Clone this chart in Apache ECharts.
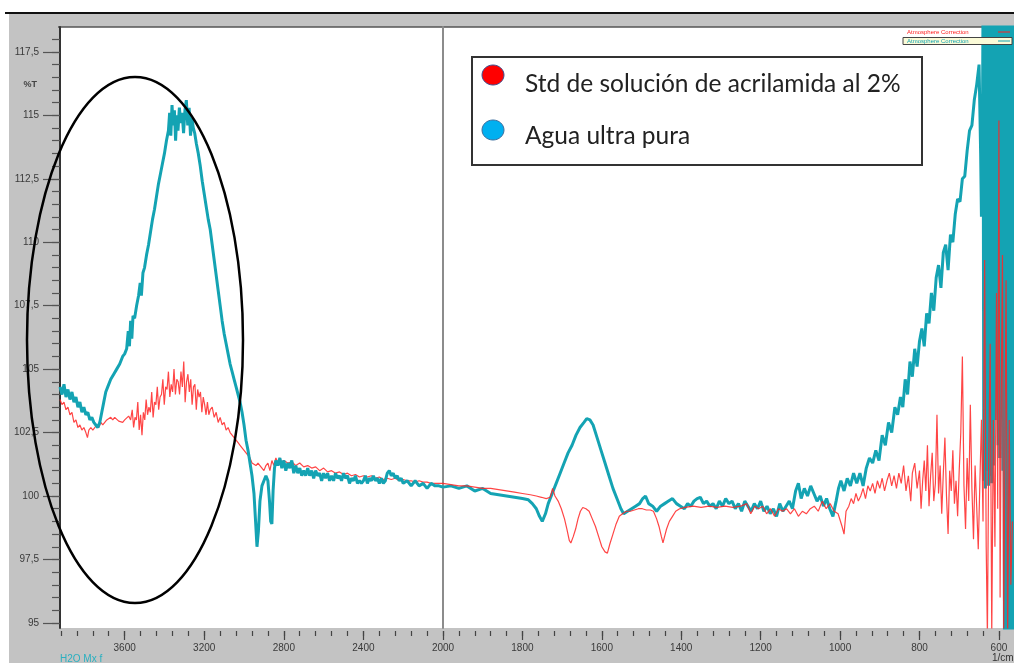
<!DOCTYPE html>
<html>
<head>
<meta charset="utf-8">
<script src="https://cdn.jsdelivr.net/npm/echarts@6/dist/echarts.min.js"></script>
<style>
html,body{margin:0;padding:0;background:#fff;}
#chart{width:1014px;height:663px;}
</style>
</head>
<body>
<div id="chart"></div>
<script>
// ---- tick labels ----
const yMajorTicks = [95, 97.5, 100, 102.5, 105, 107.5, 110, 112.5, 115, 117.5];
const xMajorLeft = [3600, 3200, 2800, 2400, 2000];
const xMajorRight = [1800, 1600, 1400, 1200, 1000, 800, 600];
const legendLabels = ['Std de solución de acrilamida al 2%', 'Agua ultra pura'];

// ---- Agua ultra pura (cyan) : wavenumber / %T ----
const aguaWn = [3925,3915,3905,3895,3885,3875,3865,3855,3845,3835,3825,3815,3805,3795,3785,3775,3765,3755,3745,3735,3725,3715,3705,3695,3685,3670,3655,3640,3625,3610,3600,3590,3582,3576,3570,3564,3558,3550,3540,3530,3522,3516,3508,3500,3490,3480,3470,3460,3450,3440,3430,3420,3410,3400,3390,3380,3374,3368,3362,3356,3350,3344,3338,3332,3325,3318,3311,3304,3297,3290,3283,3276,3269,3262,3255,3248,3240,3230,3220,3210,3200,3190,3180,3170,3160,3150,3140,3130,3120,3110,3100,3090,3080,3070,3060,3050,3040,3030,3020,3010,3000,2990,2980,2970,2960,2950,2942,2935,2928,2920,2910,2900,2890,2880,2872,2866,2860,2854,2847,2840,2830,2820,2810,2800,2790,2780,2770,2760,2750,2740,2730,2720,2710,2700,2690,2680,2670,2660,2650,2640,2630,2620,2610,2600,2590,2580,2570,2560,2550,2540,2530,2520,2510,2500,2490,2480,2470,2460,2450,2440,2430,2420,2410,2400,2390,2380,2370,2360,2350,2340,2330,2320,2310,2300,2290,2280,2270,2260,2250,2240,2230,2220,2210,2200,2180,2160,2140,2120,2100,2080,2060,2040,2020,2000,
1980,1960,1940,1920,1900,1880,1860,1840,1820,1800,1785,1775,1765,1757,1750,1742,1735,1725,1715,1705,1695,1685,1675,1665,1655,1645,1638,1630,1622,1612,1602,1592,1582,1572,1562,1552,1545,1535,1525,1515,1505,1497,1490,1482,1472,1462,1452,1442,1432,1422,1412,1402,1392,1384,1376,1368,1360,1352,1344,1336,1328,1320,1312,1304,1296,1288,1280,1272,1264,1256,1248,1240,1232,1224,1216,1208,1200,1192,1184,1176,1168,1160,1152,1144,1136,1128,1120,1112,1105,1098,1090,1082,1074,1066,1058,1050,1042,1034,1026,1018,1010,1004,998,990,982,974,966,958,950,942,934,926,918,910,902,894,886,878,870,862,855,848,842,836,830,824,818,812,806,800,794,788,782,776,770,764,758,752,746,740,734,728,722,716,710,704,698,692,686,680,674,668,662,656,650,646,644,642,640,638,636,634,632,630,628,626,624,622,620,618,616,614,612,610,608,606,604,602,600,598,596,594,592,590,588,586,584,582,580,578,576,574,572,570,568,566,564,562];
const aguaT = [104.3,104.0,104.4,103.9,104.2,103.8,104.1,103.7,103.9,103.5,103.7,103.3,103.5,103.2,103.3,103.0,103.1,102.9,102.8,102.7,102.9,103.3,103.7,104.1,104.3,104.6,104.8,105.0,105.2,105.5,105.6,105.8,106.5,105.9,106.9,106.2,107.1,107.0,107.5,107.9,108.4,107.9,108.8,109.0,109.5,109.9,110.4,110.9,111.3,111.8,112.3,112.7,113.1,113.5,114.0,114.4,115.1,114.2,115.4,114.6,115.2,114.0,115.0,114.4,115.3,114.7,115.1,114.3,115.2,115.6,114.6,115.3,114.2,114.9,114.5,114.3,113.9,113.5,113.0,112.4,111.9,111.4,110.9,110.5,109.9,109.3,108.7,108.1,107.5,106.9,106.4,106.0,105.6,105.2,104.9,104.6,104.3,104.0,103.7,103.3,102.8,102.2,101.8,101.3,100.8,100.1,99.0,98.0,98.6,99.8,100.4,100.6,100.8,100.6,99.8,99.0,98.9,100.2,101.1,101.4,101.2,101.5,101.1,101.4,101.0,101.3,101.1,101.4,100.9,101.2,100.9,101.1,100.8,101.0,100.8,101.1,100.8,101.0,100.7,101.0,100.8,100.9,100.6,100.9,100.7,100.9,100.6,100.8,100.6,100.9,100.7,100.8,100.6,100.9,100.7,100.8,100.5,100.7,100.6,100.8,100.5,100.6,100.5,100.6,100.8,100.5,100.7,100.6,100.8,100.6,100.7,100.5,100.7,100.5,100.6,100.9,101.0,100.8,100.9,100.7,100.8,100.6,100.7,100.5,100.6,100.4,100.6,100.4,100.5,100.3,100.5,100.4,100.4,100.35,
100.4,100.3,100.4,100.2,100.3,100.1,100.05,100.0,99.95,99.9,99.85,99.7,99.5,99.2,99.0,99.3,99.7,100.1,100.5,100.9,101.3,101.7,102.0,102.4,102.7,102.9,103.05,103.0,102.8,102.3,101.8,101.3,100.8,100.3,99.9,99.5,99.3,99.4,99.5,99.6,99.7,99.9,100.0,99.7,99.6,99.4,99.6,99.7,99.8,99.9,99.7,99.6,99.5,99.7,99.6,99.8,99.9,99.95,99.7,99.8,99.6,99.7,99.5,99.8,99.6,99.9,99.7,99.8,99.5,99.7,99.4,99.8,99.6,99.4,99.7,99.5,99.8,99.4,99.6,99.3,99.5,99.2,99.7,99.4,99.6,99.8,99.5,100.2,100.5,99.9,100.3,100.0,100.4,100.1,99.8,100.0,99.6,99.9,99.5,99.2,99.8,100.3,100.6,100.2,100.7,100.4,100.9,100.5,100.9,100.4,101.1,101.5,101.3,101.8,101.4,102.4,102.0,102.9,102.5,103.5,103.2,103.9,103.5,104.6,104.0,105.3,104.7,105.8,105.1,106.1,106.6,105.9,107.2,106.8,108.0,107.3,108.6,109.1,108.2,109.6,109.9,108.9,110.3,110.0,111.1,111.7,111.6,112.5,112.6,113.6,114.4,114.6,115.6,116.2,117.0,113.5,111.0,112.5,119.5,100.6,119.5,100.3,119.5,101.0,119.5,100.4,119.5,100.8,119.5,100.5,119.5,101.2,119.5,103.0,119.5,104.5,119.5,102.0,119.5,101.5,119.5,104.0,119.5,101.0,119.5,94.0,119.5,94.0,119.5,94.0,119.5,94.0,119.5,94.0,119.5,94.0,119.5,94.0];

// ---- Std de solución de acrilamida al 2% (red) : wavenumber / %T ----
const acrilWn = [3925,3915,3905,3895,3885,3875,3865,3855,3845,3835,3825,3815,3805,3795,3787,3780,3770,3760,3750,3740,3730,3720,3710,3700,3690,3680,3670,3660,3650,3640,3630,3620,3610,3600,3590,3580,3570,3562,3555,3548,3541,3534,3527,3520,3513,3506,3499,3492,3485,3478,3471,3464,3457,3450,3443,3436,3429,3422,3415,3408,3401,3394,3387,3380,3373,3366,3359,3352,3345,3338,3331,3324,3317,3310,3303,3296,3289,3282,3275,3268,3261,3254,3247,3240,3233,3226,3219,3212,3205,3198,3191,3184,3177,3170,3160,3150,3140,3130,3120,3110,3100,3090,3080,3070,3060,3050,3040,3030,3020,3010,3000,2990,2980,2970,2960,2950,2940,2930,2920,2910,2900,2890,2880,2870,2860,2850,2840,2830,2820,2810,2800,2780,2760,2740,2720,2700,2680,2660,2640,2620,2600,2580,2560,2540,2520,2500,2480,2460,2440,2420,2400,2380,2360,2340,2320,2300,2280,2260,2240,2220,2200,2180,2160,2140,2120,2100,2080,2060,2040,2020,2000,
1980,1960,1940,1920,1900,1880,1860,1840,1820,1800,1780,1765,1752,1740,1730,1724,1718,1710,1702,1694,1688,1682,1678,1672,1666,1660,1654,1648,1640,1632,1624,1616,1608,1600,1592,1586,1580,1572,1564,1556,1548,1538,1528,1518,1508,1498,1488,1478,1470,1462,1456,1450,1446,1442,1437,1430,1422,1414,1404,1390,1370,1350,1330,1310,1290,1270,1250,1235,1225,1215,1205,1195,1185,1175,1165,1155,1145,1135,1125,1115,1105,1095,1085,1075,1065,1055,1045,1035,1025,1015,1005,995,990,985,978,972,966,960,954,948,942,936,930,924,918,912,906,900,894,888,882,876,870,864,858,852,846,840,834,828,822,818,812,806,800,796,792,788,784,780,776,772,768,764,760,756,752,748,744,740,736,732,728,724,720,716,712,708,704,700,696,692,688,684,680,676,672,668,664,660,656,652,648,644,640,636,632,629,626,622,618,614,610,606,603,600,597,594,591,588,585,582,578,574,570,566];
const acrilT = [103.8,103.6,103.7,103.4,103.5,103.2,103.3,102.9,103.0,102.7,102.8,102.6,102.7,102.5,102.3,102.6,102.7,102.6,102.7,102.8,102.7,102.9,102.8,102.9,103.0,102.95,103.1,103.0,103.1,103.05,102.95,103.0,102.9,103.0,102.95,103.15,103.0,
103.4,102.7,103.1,103.0,103.7,102.6,103.2,102.4,103.3,103.0,103.8,103.2,103.5,103.3,104.1,103.1,103.7,103.6,104.3,103.4,103.9,104.0,104.6,103.6,104.3,104.2,104.9,103.9,104.4,104.1,105.0,104.0,104.6,104.5,104.0,104.9,104.3,105.3,103.7,104.5,104.8,104.1,104.6,103.6,104.3,104.4,103.4,104.2,103.9,104.1,103.3,103.9,103.6,103.2,103.7,103.2,103.4,
103.5,103.1,103.3,102.9,103.1,102.8,102.9,102.6,102.7,102.5,102.4,102.3,102.3,102.1,102.0,101.9,101.8,101.7,101.6,101.5,101.3,101.3,101.2,101.3,101.3,101.1,101.0,101.2,101.3,101.0,101.4,101.2,101.5,101.3,101.5,101.3,101.4,101.3,101.35,101.2,101.3,101.15,101.2,101.1,101.15,101.0,101.1,100.95,101.0,100.9,100.95,100.85,100.9,100.8,100.85,100.75,100.8,100.75,100.8,100.7,100.75,100.65,100.7,100.65,100.7,100.6,100.65,100.6,100.6,100.55,100.6,100.55,100.55,100.5,100.5,100.5,100.5,
100.45,100.4,100.4,100.35,100.3,100.3,100.25,100.2,100.15,100.1,100.05,100.0,99.95,99.9,99.95,100.3,100.0,99.8,99.5,99.1,98.7,98.25,98.15,98.4,98.7,99.1,99.4,99.55,99.5,99.4,99.1,98.8,98.4,98.0,97.8,97.75,98.1,98.5,98.9,99.2,99.3,99.4,99.4,99.45,99.5,99.5,99.45,99.45,99.4,99.1,98.8,98.4,98.15,98.4,98.7,99.0,99.2,99.4,99.5,99.55,99.6,99.55,99.6,99.55,99.6,99.55,99.6,99.7,99.3,99.6,99.5,99.6,99.3,99.5,99.2,99.5,99.4,99.5,99.3,99.5,99.2,99.4,99.3,99.5,99.6,99.4,99.8,99.5,99.7,99.4,99.3,98.8,98.5,99.4,99.6,99.9,99.7,100.1,99.8,100.0,100.3,99.9,100.4,100.2,100.5,100.1,100.6,100.3,100.7,100.2,100.6,100.9,100.4,100.8,100.3,100.9,100.5,101.2,100.2,100.8,99.8,100.9,101.3,100.3,101.0,99.5,100.6,101.4,100.2,102.0,99.6,100.8,101.7,99.8,100.5,103.2,100.1,101.2,99.3,100.9,102.3,100.0,98.5,101.0,100.2,101.8,99.7,100.6,99.2,101.0,102.5,105.5,100.4,98.7,101.5,99.8,103.6,100.3,98.3,101.2,99.6,97.9,100.5,103.0,99.0,109.3,98.0,94.5,101.0,106.0,94.5,103.0,98.0,108.0,99.5,114.8,96.0,104.0,109.5,94.5,101.5,108.5,94.5,103.0,96.5,99.0];

// ---- build series data (split at 2000 1/cm, where the scale changes) ----
function pairs(wn, t, keep) {
  const out = [];
  for (let i = 0; i < wn.length; i++) if (keep(wn[i])) out.push([wn[i], t[i]]);
  return out;
}
const aguaLeft = pairs(aguaWn, aguaT, w => w >= 2000);
const aguaRight = pairs(aguaWn, aguaT, w => w <= 2000);
const acrilLeft = pairs(acrilWn, acrilT, w => w >= 2000);
const acrilRight = pairs(acrilWn, acrilT, w => w <= 2000);

const yMinor = [];
for (let v = 95; v <= 118.01; v += 0.5) yMinor.push(+v.toFixed(1));
const xMinorLeft = [];
for (let v = 3920; v >= 2000; v -= 80) xMinorLeft.push(v);
const xMinorRight = [];
for (let v = 1960; v >= 600; v -= 40) xMinorRight.push(v);

const Y_MIN = 94.8, Y_MAX = 118.48;
const axisTxt = '#3a3a3a';
const CYAN = '#14a3b3', RED = '#ff2424';
const plainNum = v => String(v);

function xAxisDef(grid, min, max, ticks, len, labels) {
  return {gridIndex: grid, type: 'value', min: min, max: max, inverse: true, position: 'bottom', offset: 3,
    axisLine: {show: false}, splitLine: {show: false},
    axisTick: {customValues: ticks, length: len, lineStyle: {color: '#444', width: 1.2}},
    axisLabel: labels ? {customValues: ticks, fontSize: 10, color: axisTxt, margin: 12,
                         fontFamily: 'Liberation Sans', formatter: plainNum} : {show: false}};
}

const chart = echarts.init(document.getElementById('chart'), null, {renderer: 'canvas'});
const option = {
  animation: false,
  grid: [
    {left: 60, top: 27, width: 383, height: 601},
    {left: 443, top: 27, right: 0, height: 601}
  ],
  xAxis: [
    xAxisDef(0, 2000, 3925, xMajorLeft, 9, true),
    xAxisDef(0, 2000, 3925, xMinorLeft, 5, false),
    xAxisDef(1, 562, 2000, xMajorRight, 9, true),
    xAxisDef(1, 562, 2000, xMinorRight, 5, false)
  ],
  yAxis: [
    {gridIndex: 0, type: 'value', min: Y_MIN, max: Y_MAX, position: 'left',
     axisLine: {show: true, lineStyle: {color: '#333', width: 2}}, splitLine: {show: false},
     axisTick: {customValues: yMajorTicks, length: 17, lineStyle: {color: '#555', width: 1.2}},
     axisLabel: {customValues: yMajorTicks, fontSize: 10, color: axisTxt, margin: 21, fontFamily: 'Liberation Sans',
                 formatter: v => String(v).replace('.', ',')}},
    {gridIndex: 0, type: 'value', min: Y_MIN, max: Y_MAX, position: 'left',
     axisLine: {show: false}, splitLine: {show: false},
     axisTick: {customValues: yMinor, length: 8, lineStyle: {color: '#555', width: 1.2}},
     axisLabel: {show: false}},
    {gridIndex: 1, type: 'value', min: Y_MIN, max: Y_MAX, position: 'left',
     axisLine: {show: true, lineStyle: {color: '#8c8c8c', width: 2}}, splitLine: {show: false},
     axisTick: {show: false}, axisLabel: {show: false}}
  ],
  series: [
    {type: 'line', xAxisIndex: 0, yAxisIndex: 0, data: acrilLeft, showSymbol: false, z: 2,
     lineStyle: {color: RED, width: 1.2, opacity: 0.85}},
    {type: 'line', xAxisIndex: 0, yAxisIndex: 0, data: aguaLeft, showSymbol: false, z: 3,
     lineStyle: {color: CYAN, width: 3}},
    {type: 'line', xAxisIndex: 2, yAxisIndex: 2, data: aguaRight, showSymbol: false, z: 2,
     lineStyle: {color: CYAN, width: 3}},
    {type: 'line', xAxisIndex: 2, yAxisIndex: 2, data: acrilRight, showSymbol: false, z: 3,
     lineStyle: {color: RED, width: 1.2, opacity: 0.85}}
  ],
  graphic: [
    {type: 'rect', z: -20, shape: {x: 9, y: 14, width: 1010, height: 655}, style: {fill: '#c3c3c3'}},
    {type: 'line', z: -19, shape: {x1: 5, y1: 13, x2: 1014, y2: 13}, style: {stroke: '#111', lineWidth: 2}},
    {type: 'rect', z: -18, shape: {x: 60, y: 27, width: 960, height: 601}, style: {fill: '#ffffff'}},
    {type: 'line', z: -17, shape: {x1: 58, y1: 27, x2: 1014, y2: 27}, style: {stroke: '#555', lineWidth: 1.5}},
    {type: 'text', z: 5, x: 37, y: 85, style: {text: '%T', font: 'bold 9px Liberation Sans', fill: '#444', align: 'right', verticalAlign: 'middle'}},
    {type: 'text', z: 5, x: 60, y: 659, style: {text: 'H2O Mx f', font: '10px Liberation Sans', fill: '#2ab0c0', align: 'left', verticalAlign: 'middle'}},
    {type: 'text', z: 5, x: 992, y: 658, style: {text: '1/cm', font: '10px Liberation Sans', fill: '#333', align: 'left', verticalAlign: 'middle'}},
    // tiny instrument legend (top right)
    {type: 'text', z: 20, x: 907, y: 32, style: {text: 'Atmosphere Correction', font: '6px Liberation Sans', fill: '#ff2020', align: 'left', verticalAlign: 'middle'}},
    {type: 'line', z: 20, shape: {x1: 998, y1: 32, x2: 1010, y2: 32}, style: {stroke: '#ff2020', lineWidth: 1}},
    {type: 'rect', z: 20, shape: {x: 903, y: 37.5, width: 109, height: 7}, style: {fill: '#fbfbd8', stroke: '#444', lineWidth: 1}},
    {type: 'text', z: 21, x: 907, y: 41, style: {text: 'Atmosphere Correction', font: '6px Liberation Sans', fill: CYAN, align: 'left', verticalAlign: 'middle'}},
    {type: 'line', z: 21, shape: {x1: 998, y1: 41, x2: 1010, y2: 41}, style: {stroke: CYAN, lineWidth: 1}},
    // annotation ellipse
    {type: 'ellipse', z: 30, shape: {cx: 135, cy: 340, rx: 108, ry: 263}, style: {fill: null, stroke: '#000', lineWidth: 2.5}},
    // legend box
    {type: 'rect', z: 30, shape: {x: 472, y: 57, width: 450, height: 108}, style: {fill: '#fff', stroke: '#333', lineWidth: 2}},
    {type: 'ellipse', z: 31, shape: {cx: 493, cy: 75, rx: 11, ry: 10}, style: {fill: '#ff0000', stroke: '#3d4f8f', lineWidth: 1}},
    {type: 'ellipse', z: 31, shape: {cx: 493, cy: 130, rx: 11, ry: 10}, style: {fill: '#00b0f0', stroke: '#3d6f9f', lineWidth: 1}},
    {type: 'text', z: 31, x: 525, y: 84, style: {text: legendLabels[0], font: '24.5px Lato', fill: '#222', align: 'left', verticalAlign: 'middle'}},
    {type: 'text', z: 31, x: 525, y: 136, style: {text: legendLabels[1], font: '24.5px Lato', fill: '#222', align: 'left', verticalAlign: 'middle'}}
  ]
};
chart.setOption(option);
</script>
</body>
</html>
